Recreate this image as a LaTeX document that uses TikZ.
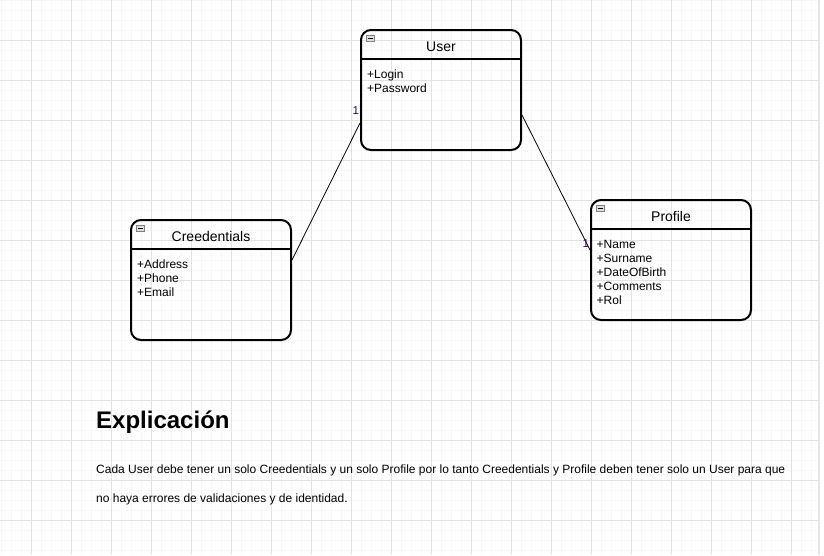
\documentclass[tikz,border=0pt]{standalone}
\usepackage{fontspec}
\setmainfont{Liberation Sans}
\usepackage{tikz}

\definecolor{gridminor}{RGB}{247,247,247}
\definecolor{gridmajor}{RGB}{226,226,226}
\definecolor{gridedge}{RGB}{230,230,230}
\definecolor{multcolor}{RGB}{60,0,120}
\definecolor{iconfill}{RGB}{222,222,222}

\begin{document}
\begin{tikzpicture}[x = 1pt, y = -1pt,
    classbox/.style = {draw, line width = 2pt, rounded corners = 10pt, minimum width = 160pt, minimum height = 120pt, inner sep = 0pt},
    classtitle/.style = {font = \fontsize{14}{16}\selectfont, anchor = base, inner sep = 0pt},
    attr/.style = {font = \fontsize{12}{14}\selectfont, anchor = base west, inner sep = 0pt},
    mult/.style = {font = \fontsize{11.5}{13}\selectfont, text = multcolor, inner sep = 0pt},
    icon/.style = {draw = gray, fill = iconfill, line width = 0.7pt, minimum width = 7.5pt, minimum height = 6.5pt, inner sep = 0pt, outer sep = 0pt},
    link/.style = {line width = 0.8pt},
    bodytext/.style = {font = \fontsize{12}{14}\selectfont, anchor = base west, inner sep = 0pt}]
    \useasboundingbox (0,0) rectangle (824,555);

    % grid
    \foreach \x in {1,11,...,811} \draw[gridminor] (\x,0) -- (\x,555);
    \foreach \y in {0,10,...,550} \draw[gridminor] (0,\y) -- (818,\y);
    \foreach \x in {31,71,...,791} \draw[gridmajor] (\x,0) -- (\x,555);
    \foreach \y in {40,80,...,520} \draw[gridmajor] (0,\y) -- (818,\y);
    \draw[gridedge, line width = 2pt] (819,0) -- (819,555);

    % classes
    \node[classbox] (user) at (441,90) {};
    \node[classbox] (creed) at (211,280) {};
    \node[classbox] (profile) at (671,260) {};

    \foreach \cls/\name in {user/User, creed/Creedentials, profile/Profile} {
        \draw[line width = 2pt] ([yshift=-30pt]\cls.north west) -- ([yshift=-30pt]\cls.north east);
        \node[classtitle] (\cls-title) at ([yshift=-22.7pt]\cls.north) {\name};
        \node[icon] (\cls-icon) at ([xshift=10.5pt, yshift=-9.3pt]\cls.north west) {};
        \draw[line width = 0.8pt] ([xshift=1.5pt]\cls-icon.west) -- ([xshift=-1.5pt]\cls-icon.east);
    }

    \foreach \a [count=\i] in {Login,Password}
        \node[attr] (user-attr\i) at ([xshift=7pt, yshift={-49pt-14pt*(\i-1)}]user.north west) {+\a};
    \foreach \a [count=\i] in {Address,Phone,Email}
        \node[attr] (creed-attr\i) at ([xshift=7pt, yshift={-49pt-14pt*(\i-1)}]creed.north west) {+\a};
    \foreach \a [count=\i] in {Name,Surname,DateOfBirth,Comments,Rol}
        \node[attr] (profile-attr\i) at ([xshift=6.5pt, yshift={-49pt-14pt*(\i-1)}]profile.north west) {+\a};

    % associations
    \draw[link] ([yshift=20pt]creed.east) -- ([yshift=-33pt]user.west)
        node[mult, pos=1, anchor=south east, xshift=-0.7pt, yshift=8pt] (user-mult) {1};
    \draw[link] ([yshift=-25pt]user.east) -- ([yshift=10pt]profile.west)
        node[mult, pos=1, anchor=south east, xshift=-0.7pt, yshift=1.7pt] (profile-mult) {1};

    % explanation
    \node[anchor = base west, inner sep = 0pt, font = \bfseries\fontsize{24}{28}\selectfont] (heading) at (96,428.3) {Explicación};
    \node[bodytext] (line1) at (96,473.3) {Cada User debe tener un solo Creedentials y un solo Profile por lo tanto Creedentials y Profile deben tener solo un User para que};
    \node[bodytext] (line2) at (96,502.3) {no haya errores de validaciones y de identidad.};
\end{tikzpicture}
\end{document}
